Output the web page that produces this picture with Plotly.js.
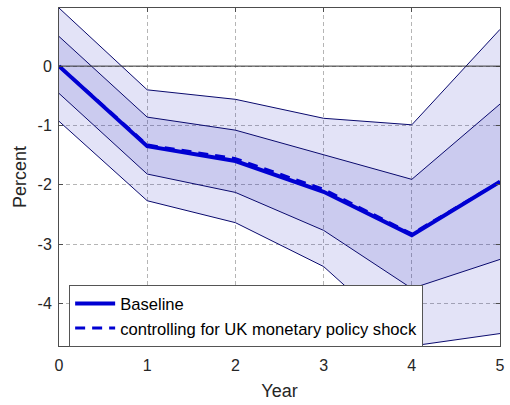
<!DOCTYPE html>
<html>
<head>
<meta charset="utf-8">
<script src="https://cdn.plot.ly/plotly-3.0.1.min.js"></script>
<style>html,body{margin:0;padding:0;background:#fff;}#chart{width:510px;height:405px;}</style>
</head>
<body>
<div id="chart"></div>
<script>
// Data
var years = [0, 1, 2, 3, 4, 5];
var baseline = [0, -1.35, -1.60, -2.12, -2.85, -1.95];
var ukControl = [0, -1.33, -1.56, -2.08, -2.83, -1.95];
var innerUpper = [0.50, -0.86, -1.08, -1.49, -1.91, -0.64];
var innerLower = [-0.46, -1.82, -2.13, -2.77, -3.75, -3.26];
var outerUpper = [0.98, -0.40, -0.56, -0.88, -0.99, 0.62];
var outerLower = [-0.93, -2.27, -2.64, -3.38, -4.72, -4.51];
var xTickVals = [0, 1, 2, 3, 4, 5];
var xTickText = ['0', '1', '2', '3', '4', '5'];
var yTickVals = [0, -1, -2, -3, -4];
var yTickText = ['0', '-1', '-2', '-3', '-4'];

var bandLine = {color: '#0a0a6e', width: 1};
var outerFill = 'rgba(0,0,180,0.11)';
var innerFill = 'rgba(0,0,177,0.10)';
var mainColor = '#0000d2';
var fontFam = 'Liberation Sans, Arial, sans-serif';

var traces = [
  {x: years, y: outerLower, mode: 'lines', line: bandLine, showlegend: false, hoverinfo: 'skip'},
  {x: years, y: outerUpper, mode: 'lines', line: bandLine, fill: 'tonexty', fillcolor: outerFill, showlegend: false, hoverinfo: 'skip'},
  {x: years, y: innerLower, mode: 'lines', line: bandLine, showlegend: false, hoverinfo: 'skip'},
  {x: years, y: innerUpper, mode: 'lines', line: bandLine, fill: 'tonexty', fillcolor: innerFill, showlegend: false, hoverinfo: 'skip'},
  {x: years, y: ukControl, mode: 'lines', name: 'controlling for UK monetary policy shock', line: {color: mainColor, width: 3, dash: '10px,7px'}},
  {x: years, y: baseline, mode: 'lines', name: 'Baseline', line: {color: mainColor, width: 4}}
];

var axisCommon = {
  showline: true, linecolor: '#4d4d4d', linewidth: 1, mirror: 'ticks',
  ticks: 'inside', ticklen: 4, tickcolor: '#4d4d4d',
  showgrid: true, gridcolor: 'rgba(120,120,120,0.55)', griddash: '4px,3px', gridwidth: 1,
  zeroline: false,
  tickfont: {family: fontFam, size: 16, color: '#262626'}
};

var layout = {
  width: 510, height: 405,
  margin: {l: 59, r: 10, t: 8, b: 59},
  paper_bgcolor: '#fff', plot_bgcolor: '#fff',
  font: {family: fontFam, size: 16, color: '#262626'},
  xaxis: Object.assign({}, axisCommon, {
    range: [Math.min.apply(null, years), Math.max.apply(null, years)],
    tickmode: 'array', tickvals: xTickVals, ticktext: xTickText,
    ticklabelstandoff: 5,
    title: {text: 'Year', font: {family: fontFam, size: 18, color: '#262626'}, standoff: 11}
  }),
  yaxis: Object.assign({}, axisCommon, {
    range: [Math.min.apply(null, outerLower), Math.max.apply(null, outerUpper)],
    tickmode: 'array', tickvals: yTickVals, ticktext: yTickText,
    ticklabelstandoff: 3,
    title: {text: 'Percent', font: {family: fontFam, size: 18, color: '#262626'}, standoff: 6}
  }),
  shapes: [
    {type: 'line', xref: 'paper', x0: 0, x1: 1, yref: 'y', y0: 0, y1: 0, layer: 'above',
     line: {color: '#333333', width: 1}}
  ],
  legend: {
    x: 0.023, y: 0.18, xanchor: 'left', yanchor: 'top',
    bgcolor: '#ffffff', bordercolor: '#555555', borderwidth: 1,
    traceorder: 'reversed',
    font: {family: fontFam, size: 16.6, color: '#000'},
    itemwidth: 40, tracegroupgap: 0
  },
  showlegend: true
};

Plotly.newPlot('chart', traces, layout, {staticPlot: true, displayModeBar: false});
</script>
</body>
</html>
